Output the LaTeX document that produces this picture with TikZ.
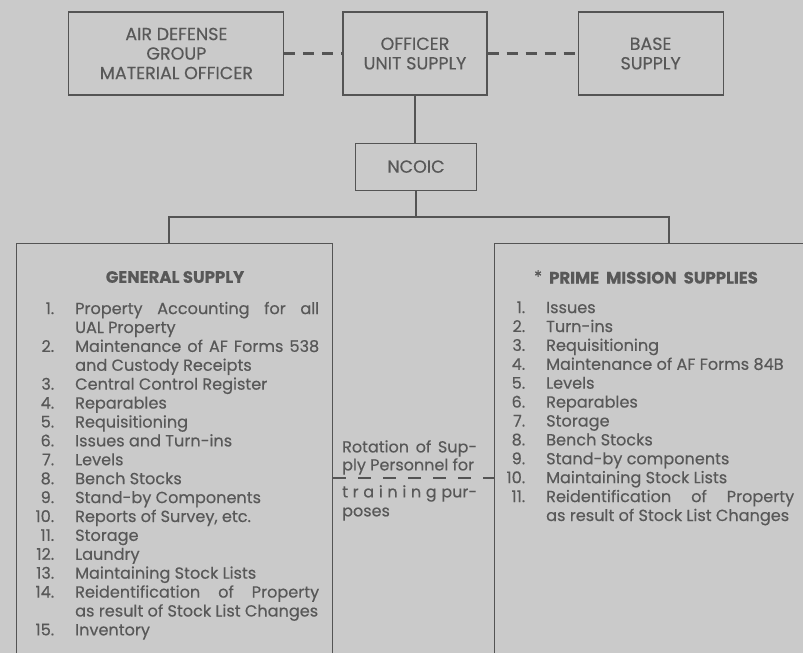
\documentclass[tikz,border=0pt]{standalone}
\usepackage{fontspec}
\setmainfont{Poppins}[FakeBold=0.35]
\usetikzlibrary{positioning,calc}

\definecolor{paper}{RGB}{202,202,202}
\definecolor{ink}{RGB}{88,88,88}
\definecolor{rule}{RGB}{84,84,84}

\newcommand{\itemno}[1]{\par\noindent\llap{#1\hspace{21pt}}}

\begin{document}
\begin{tikzpicture}[x=1pt, y=1pt,
      office/.style={draw=rule, line width=1.1pt, align=center, inner sep=0pt,
        text=ink, font=\fontsize{17.5}{19.5}\selectfont},
      bigbox/.style={draw=rule, line width=1.1pt, inner sep=0pt, anchor=north west},
      heading/.style={text=ink, font=\bfseries\fontsize{16.5}{18}\selectfont, inner sep=0pt},
      duties/.style={text=ink, align=justify, inner sep=0pt, anchor=north west,
        font=\fontsize{16.1}{18.9}\selectfont},
      link/.style={draw=rule, line width=2pt},
      dashlink/.style={draw=rule, line width=2.6pt, dash pattern=on 11pt off 8pt}
    ]
      % page
      \useasboundingbox (0,0) rectangle (803,-653);
      \fill[paper] (0,0) rectangle (803,-653);
      \clip (0,0) rectangle (803,-653);

      % Top row
      \node[office, minimum width=144pt, minimum height=83pt] (officer) at (415,-53.5)
        {OFFICER\\UNIT SUPPLY};
      \node[office, minimum width=215pt, minimum height=83pt, left=58pt of officer] (adg)
        {AIR DEFENSE\\GROUP\\MATERIAL OFFICER};
      \node[office, minimum width=145pt, minimum height=83pt, right=90pt of officer] (base)
        {BASE\\SUPPLY};

      % NCOIC
      \node[office, minimum width=121pt, minimum height=47pt, below=47pt of officer, xshift=1pt] (ncoic) {NCOIC};

      % Sections
      \node[bigbox, minimum width=316pt, minimum height=460pt] (general) at (16,-243) {};
      \node[bigbox, minimum width=348pt, minimum height=460pt] (prime) at (494,-243) {};

      \node[heading] (gentitle) at (175,-277) {GENERAL SUPPLY};
      \node[heading] (primetitle) at (646,-277)
        {{\mdseries\raisebox{1pt}{*}}\hspace{7pt}PRIME\hspace{7pt}MISSION\hspace{7pt}SUPPLIES};

      \node[duties, text width=244pt] (genlist) at (75,-295) {%
        \itemno{1.}Property Accounting for all\linebreak UAL Property
        \itemno{2.}Maintenance of AF Forms 538\linebreak and Custody Receipts
        \itemno{3.}Central Control Register
        \itemno{4.}Reparables
        \itemno{5.}Requisitioning
        \itemno{6.}Issues and Turn-ins
        \itemno{7.}Levels
        \itemno{8.}Bench Stocks
        \itemno{9.}Stand-by Components
        \itemno{10.}Reports of Survey, etc.
        \itemno{11.}Storage
        \itemno{12.}Laundry
        \itemno{13.}Maintaining Stock Lists
        \itemno{14.}Reidentification of Property\linebreak as result of Stock List Changes
        \itemno{15.}Inventory};

      \node[duties, text width=248pt] (primelist) at (546,-294) {%
        \itemno{1.}Issues
        \itemno{2.}Turn-ins
        \itemno{3.}Requisitioning
        \itemno{4.}Maintenance of AF Forms 84B
        \itemno{5.}Levels
        \itemno{6.}Reparables
        \itemno{7.}Storage
        \itemno{8.}Bench Stocks
        \itemno{9.}Stand-by components
        \itemno{10.}Maintaining Stock Lists
        \itemno{11.}Reidentification of Property\linebreak as result of Stock List Changes};

      % Rotation note
      \node[duties, text width=135pt, font=\fontsize{16}{18}\selectfont] (rotupper) at (342,-440)
        {Rotation of Sup-\linebreak ply Personnel for};
      \node[duties, text width=135pt, font=\fontsize{16}{19}\selectfont] (rotlower) at (342,-485)
        {\makebox[\linewidth][s]{t r a i n i n g pur-}\\poses};

      % Connectors
      \draw[dashlink] (adg) -- (officer);
      \draw[dashlink] (officer) -- (base);
      \draw[link] (officer.south) -- (officer.south |- ncoic.north);
      \coordinate (split) at ($(ncoic.south)+(0,-26)$);
      \draw[link] (ncoic.south) -- (split);
      \draw[link] ([xshift=-6pt]general.north) |- (split) -| (prime.north);
      \path (general.north east) ++(0,-235) coordinate (rotL);
      \draw[dashlink, line width=2.4pt, dash pattern=on 13pt off 12pt] (rotL) -- (rotL -| prime.west);
    \end{tikzpicture}
\end{document}
